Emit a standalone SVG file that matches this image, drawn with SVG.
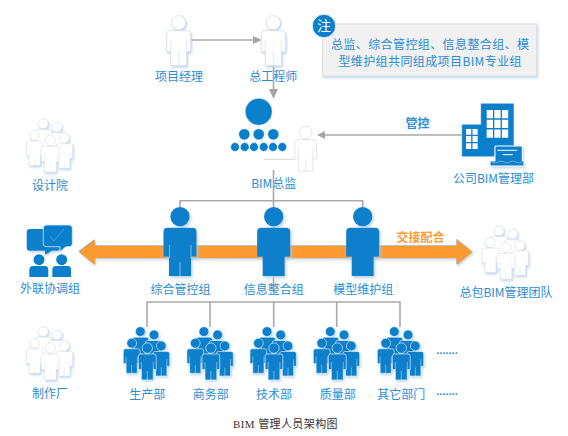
<svg xmlns="http://www.w3.org/2000/svg" width="568" height="436" viewBox="0 0 568 436">
<style>
text{font-family:"Noto Sans CJK SC","Liberation Sans",sans-serif;font-size:12px;fill:#2b8dd3;text-anchor:middle}
.w{fill:#fff;stroke:#dcdfe3;stroke-width:.9}
.b{fill:#0a7fcb;stroke:#fff;stroke-width:.8}
.bp{fill:#0a7fcb;stroke:none}
.c{fill:none;stroke:#a9a9a9;stroke-width:1.6}
.a{fill:#a5a5a5}
.s{filter:url(#sh)}
.org{fill:#fd9b33;font-weight:bold}
.bld{font-weight:bold}
.tl{fill:none;stroke:#dcdcdc;stroke-width:.7}
.win{fill:#fff}
</style>
<defs>
<filter id="sh" x="-30%" y="-30%" width="160%" height="160%"><feDropShadow dx="1" dy="1.5" stdDeviation="1.2" flood-color="#a9cbe8" flood-opacity=".8"/></filter>
<g id="person"><circle cx="0" cy="7" r="7"/><path d="M-9 15H9Q12 15 12 18V36H8V50H-8V36H-12V18Q-12 15-9 15Z"/></g>
<g id="personL"><use href="#person"/><path d="M-8 24V36M8 24V36M0 36V50" fill="none" stroke="#dcdfe3" stroke-width=".7"/></g>
<g id="personG"><use href="#person"/><path d="M0 38V50M-8 26V36M8 26V36" fill="none" stroke-width=".6"/></g>
<g id="grp">
<use href="#personG" transform="translate(0,-5) scale(.7)"/>
<use href="#personG" transform="translate(13.700,-1.700) scale(.7)"/>
<use href="#personG" transform="translate(-8.600,6.600) scale(.7)"/>
<use href="#personG" transform="translate(21,9.300) scale(.7)"/>
<use href="#personG" transform="translate(7,11.200) scale(.74)"/>
</g>
</defs>

<g id="connectors">
<path class="c" d="M191 40H254M273.500 65V90M273.500 170V292M180 207V200.700H362.700V207M147 327V302H400V327M210 302V327M273.700 302V327M336.700 302V327"/>
<path class="c" d="M324 135H462"/>
<path class="a" d="M262 40L253 36V44ZM273.500 99L269 89H278ZM317 135L325 131V139Z"/>
</g>

<g id="exchange-arrow" class="s">
<path fill="#aaa" transform="translate(-.7,-.7)" d="M79 252L95 240V246H457V239.500L472.700 252L457 265V258.300H95V265Z"/>
<path fill="#fd9b33" d="M79 252L95 240V246H457V239.500L472.700 252L457 265V258.300H95V265Z"/>
</g>
<text class="org" x="420.500" y="242">交接配合</text>

<g id="pm"><use href="#personL" class="w s" transform="translate(178.700,15.700)"/><text x="179" y="81">项目经理</text></g>
<g id="chief"><use href="#personL" class="w s" transform="translate(273.300,15.700)"/><text x="273.300" y="81">总工程师</text></g>

<g id="note">
<rect class="s" x="322.700" y="24" width="214" height="52" fill="#f1f1f1" stroke="#dedede"/>
<text x="430.200" y="49" style="letter-spacing:.4px">总监、综合管控组、信息整合组、模</text>
<text x="430.200" y="65.500" style="letter-spacing:.4px">型维护组共同组成项目BIM专业组</text>
<circle cx="324" cy="26" r="11.700" fill="#0a7fcb" stroke="#e9f2f9"/>
<text x="324" y="31" style="font-size:14px;fill:#fff">注</text>
</g>

<g id="bim-chief">
<path class="tl" d="M258.700 112L244.300 134M258.700 112L258.700 134M258.700 112L273.300 134M244.300 134L235 147M244.300 134L244.700 147M258.700 134L254 147M258.700 134L263.700 147M273.300 134L273 147M273.300 134L282.300 147"/>
<g fill="#0a7fcb" stroke="#fff" stroke-width=".5">
<circle cx="258.700" cy="111.700" r="13.500"/>
<circle cx="244.300" cy="134.300" r="5.600"/><circle cx="258.700" cy="134.300" r="5.600"/><circle cx="273.300" cy="134.300" r="5.600"/>
<circle cx="235" cy="147" r="4.400"/><circle cx="244.700" cy="147" r="4.400"/><circle cx="254" cy="147" r="4.400"/><circle cx="263.700" cy="147" r="4.400"/><circle cx="273" cy="147" r="4.400"/><circle cx="282.300" cy="147" r="4.400"/>
</g>
<path d="M263.700 159.300H295" stroke="#d8d8d8" fill="none"/>
<use href="#personL" class="w" transform="translate(305.700,126.200) scale(.9)"/>
<text x="273.800" y="188">BIM总监</text>
</g>

<g id="company">
<text class="bld" x="417.500" y="127.500">管控</text>
<path d="M480.700 103.300H514V147H495V156.700H461.700V124.300H480.700Z" fill="#0a7fcb" stroke="#fff" stroke-width=".5"/>
<g class="win">
<path d="M486.700 110h6.300v8.300h-6.300zM494.300 110h6.300v8.300h-6.300zM501.900 110h6.300v8.300h-6.300zM486.700 119.700h6.300v8.300h-6.300zM494.300 119.700h6.300v8.300h-6.300zM501.900 119.700h6.300v8.300h-6.300zM486.700 129.400h6.300v8.300h-6.300zM494.300 129.400h6.300v8.300h-6.300zM501.900 129.400h6.300v8.300h-6.300z"/>
<path d="M466 129h5.200v5.800H466zM472.500 129h5.200v5.800h-5.200zM466 136.100h5.200v5.800H466zM472.500 136.100h5.200v5.800h-5.200zM466 143.200h5.200v5.800H466zM472.500 143.200h5.200v5.800h-5.200z"/>
</g>
<path d="M495 146H522.300V161H524V166H490V161H495Z" fill="#0a7fcb" stroke="#fff" class="s"/>
<path d="M497.300 150.300H517.300M502.700 154.700H512.700" stroke="#fff" fill="none"/>
<path d="M492 162q3 2 6 0t6 0 6 0 6 0 6 0" stroke="#9fd0ee" stroke-width=".6" fill="none"/>
<text x="493.500" y="183">公司BIM管理部</text>
</g>

<g id="design"><use href="#grp" class="w s" transform="translate(43.300,124)"/><text x="50" y="190">设计院</text></g>

<g id="liaison">
<path d="M30 229H57Q60 229 60 232V248Q60 250.700 57 250.700H52L45 255V250.700H30Q26.700 250.700 26.700 248V232Q26.700 229 30 229Z" fill="#0a7fcb" class="s"/>
<path d="M47 225H69Q72.300 225 72.300 228V244Q72.300 246.700 69 246.700H66L60 251.700V246.700H47Q43.300 246.700 43.300 244V228Q43.300 225 47 225Z" fill="#0a7fcb" stroke="#d6e9f6" stroke-width=".8"/>
<path d="M50 236L54 241L64 229" stroke="#4f9fd6" stroke-width=".8" fill="none"/>
<g class="bp">
<circle cx="39" cy="259.700" r="5.500"/><circle cx="61.700" cy="259.700" r="5.500"/>
<path d="M29.300 277V270Q29.300 266 33 266H45Q48.300 266 48.300 270V277Z"/>
<path d="M52.300 277V270Q52.300 266 56 266H68Q71 266 71 270V277Z"/>
</g>
<text x="50" y="293">外联协调组</text>
</g>

<g id="fab"><use href="#grp" class="w s" transform="translate(43.300,331.700)"/><text x="50" y="398">制作厂</text></g>

<g id="gc"><use href="#grp" class="w s" transform="translate(499,231)"/><text x="506" y="297">总包BIM管理团队</text></g>

<g id="team-a">
<use href="#person" class="bp s" transform="translate(180,207) scale(1.38)"/>
<path d="M169.500 245V258M191 245V258M180 262V277" stroke="#d5e8f5" stroke-width=".6" fill="none"/>
<text x="180.500" y="293.500">综合管控组</text>
</g>
<g id="team-b"><use href="#person" class="bp s" transform="translate(273.700,207) scale(1.38)"/><text x="273.800" y="293.500">信息整合组</text></g>
<g id="team-c"><use href="#person" class="bp s" transform="translate(362.700,207) scale(1.38)"/><text x="363.300" y="293.500">模型维护组</text></g>

<g id="dept-1"><use href="#grp" class="b s" transform="translate(140.300,331.700)"/><text x="147.300" y="398.500">生产部</text></g>
<g id="dept-2"><use href="#grp" class="b s" transform="translate(203.900,331.700)"/><text x="210.800" y="398.500">商务部</text></g>
<g id="dept-3"><use href="#grp" class="b s" transform="translate(267,331.700)"/><text x="274" y="398.500">技术部</text></g>
<g id="dept-4"><use href="#grp" class="b s" transform="translate(330.300,331.700)"/><text x="337.700" y="398.500">质量部</text></g>
<g id="dept-5"><use href="#grp" class="b s" transform="translate(394.300,331.700)"/><text x="401.200" y="398.500">其它部门</text></g>

<text x="447" y="354" style="font-family:'Liberation Sans',sans-serif;font-size:11px;font-weight:bold">.......</text>
<text x="447" y="395" style="font-family:'Liberation Sans',sans-serif;font-size:11px;font-weight:bold">.......</text>

<text x="285.500" y="428" style="font-family:'Liberation Serif','Noto Sans CJK SC',serif;font-size:11px;fill:#333;letter-spacing:.4px">BIM 管理人员架构图</text>
</svg>
